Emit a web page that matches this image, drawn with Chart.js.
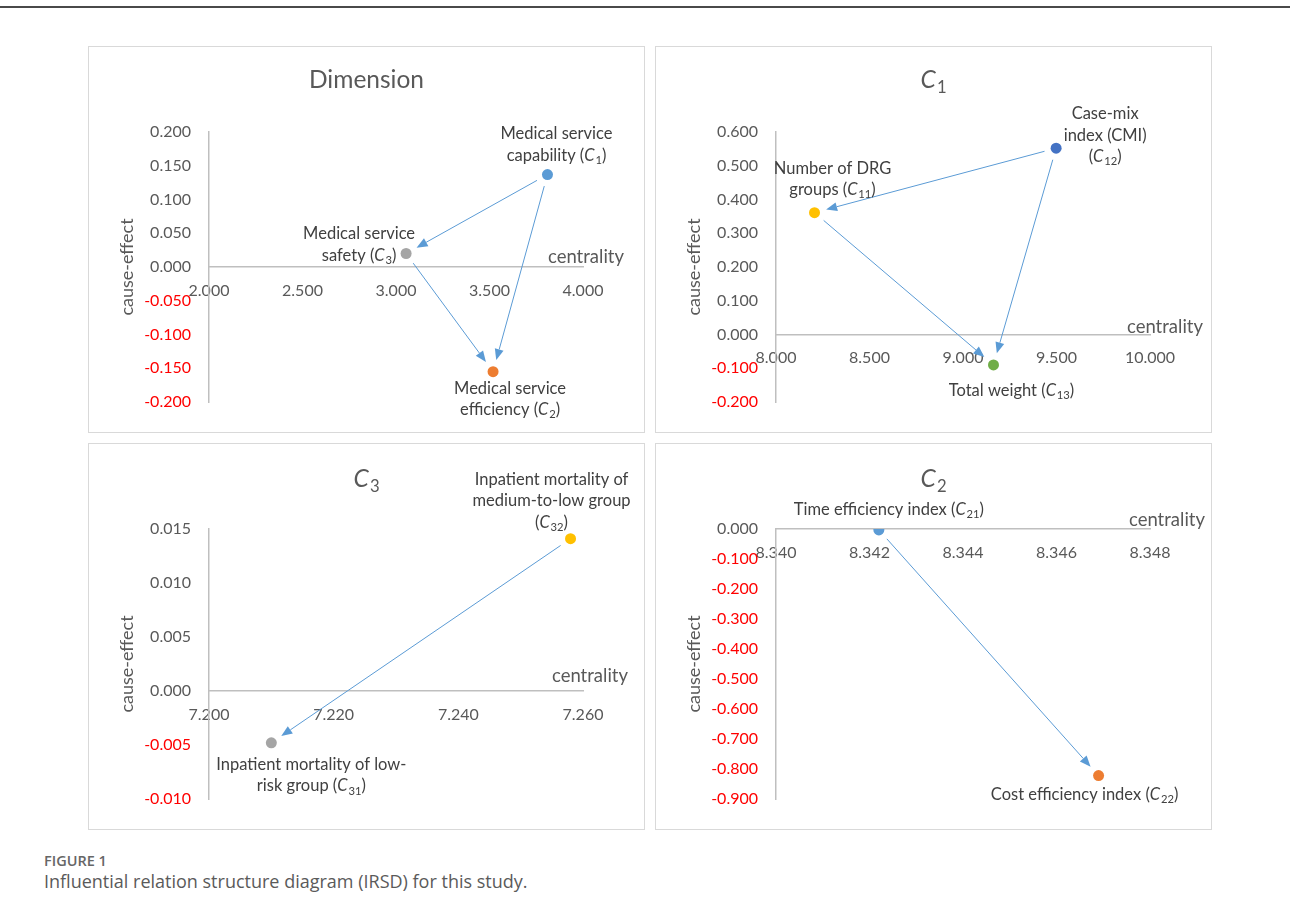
<!DOCTYPE html>
<html>
<head>
<meta charset="utf-8">
<script src="https://cdn.jsdelivr.net/npm/chart.js@4/dist/chart.umd.min.js"></script>
<style>
  body { margin: 0; background: #fff; width: 1290px; height: 918px; position: relative; overflow: hidden; }
  .topline { position: absolute; left: 0; top: 6px; width: 1290px; height: 2px; background: #4a4a4a; }
  .panel { position: absolute; border: 1px solid #d9d9d9; width: 555px; height: 385px; }
  .fig { position: absolute; left: 44px; top: 851px; font: 600 14.5px "Open Sans"; color: #666; }
  .cap { position: absolute; left: 44px; top: 869px; font: 400 18px "Open Sans"; color: #5a5a5a; }
</style>
</head>
<body>
<div class="topline"></div>
<div class="panel" style="left:88px;top:46px"><canvas id="dim" width="555" height="385"></canvas></div>
<div class="panel" style="left:655px;top:46px"><canvas id="c1" width="555" height="385"></canvas></div>
<div class="panel" style="left:88px;top:443px"><canvas id="c3" width="555" height="385"></canvas></div>
<div class="panel" style="left:655px;top:443px"><canvas id="c2" width="555" height="385"></canvas></div>
<div class="fig">FIGURE 1</div>
<div class="cap">Influential relation structure diagram (IRSD) for this study.</div>
<script>
// Dimension level
const dimNames = [["Medical service", "capability (C_1)"], ["Medical service", "efficiency (C_2)"], ["Medical service", "safety (C_3)"]];
const dimCentrality = [3.810, 3.519, 3.054];
const dimCauseEffect = [0.137, -0.155, 0.020];
const dimArrows = [[0, 2], [0, 1], [2, 1]];
const dimXTicks = [2.0, 2.5, 3.0, 3.5, 4.0];
const dimYTicks = [-0.2, -0.15, -0.1, -0.05, 0, 0.05, 0.1, 0.15, 0.2];

// C1 criteria
const c1Names = [["Number of DRG", "groups (C_11)"], ["Case-mix", "index (CMI)", "(C_12)"], ["Total weight (C_13)"]];
const c1Centrality = [8.206, 9.498, 9.163];
const c1CauseEffect = [0.361, 0.552, -0.090];
const c1Arrows = [[1, 0], [1, 2], [0, 2]];
const c1XTicks = [8.0, 8.5, 9.0, 9.5, 10.0];
const c1YTicks = [-0.2, -0.1, 0, 0.1, 0.2, 0.3, 0.4, 0.5, 0.6];

// C3 criteria
const c3Names = [["Inpatient mortality of low-", "risk group (C_31)"], ["Inpatient mortality of", "medium-to-low group", "(C_32)"]];
const c3Centrality = [7.210, 7.258];
const c3CauseEffect = [-0.0048, 0.0141];
const c3Arrows = [[1, 0]];
const c3XTicks = [7.20, 7.22, 7.24, 7.26];
const c3YTicks = [-0.010, -0.005, 0, 0.005, 0.010, 0.015];

// C2 criteria
const c2Names = [["Time efficiency index (C_21)"], ["Cost efficiency index (C_22)"]];
const c2Centrality = [8.3422, 8.3469];
const c2CauseEffect = [-0.003, -0.822];
const c2Arrows = [[0, 1]];
const c2XTicks = [8.340, 8.342, 8.344, 8.346, 8.348];
const c2YTicks = [-0.9, -0.8, -0.7, -0.6, -0.5, -0.4, -0.3, -0.2, -0.1, 0];

const FONT = "Lato";
const GREY = "#595959";
const ARROW = "#5B9BD5";

// split "capability (C_1)" into plain / italic C / subscript pieces
function richParts(text) {
  const parts = [];
  text.split(/(C_\d+)/).forEach(function (p) {
    if (!p) return;
    if (/^C_\d+$/.test(p)) {
      parts.push({ t: "C", italic: true });
      parts.push({ t: p.slice(2), sub: true });
    } else {
      parts.push({ t: p });
    }
  });
  return parts;
}

function drawRich(ctx, text, cx, cy, size, color) {
  const parts = richParts(text);
  const fontOf = function (p) {
    return (p.italic ? "italic " : "") + (p.sub ? size * 0.68 : size) + "px " + FONT;
  };
  let w = 0;
  parts.forEach(function (p) {
    ctx.font = fontOf(p);
    p.w = ctx.measureText(p.t).width + (p.italic ? size * 0.05 : 0);
    w += p.w;
  });
  let x = cx - w / 2;
  const base = cy + size * 0.36;
  ctx.fillStyle = color;
  ctx.textAlign = "left";
  ctx.textBaseline = "alphabetic";
  parts.forEach(function (p) {
    ctx.font = fontOf(p);
    ctx.fillText(p.t, x, p.sub ? base + size * 0.2 : base);
    x += p.w;
  });
}

function drawArrow(ctx, x1, y1, x2, y2) {
  const a = Math.atan2(y2 - y1, x2 - x1);
  const c = Math.cos(a), s = Math.sin(a);
  const gap = 12, head = 11, half = 4.5;
  const sx = x1 + c * gap, sy = y1 + s * gap;
  const ex = x2 - c * gap, ey = y2 - s * gap;
  ctx.strokeStyle = ARROW;
  ctx.fillStyle = ARROW;
  ctx.lineWidth = 1;
  ctx.beginPath();
  ctx.moveTo(sx, sy);
  ctx.lineTo(ex - c * head, ey - s * head);
  ctx.stroke();
  ctx.beginPath();
  ctx.moveTo(ex, ey);
  ctx.lineTo(ex - c * head - s * half, ey - s * head + c * half);
  ctx.lineTo(ex - c * head + s * half, ey - s * head - c * half);
  ctx.closePath();
  ctx.fill();
}

const decor = {
  id: "decor",
  afterDatasetsDraw: function (chart) {
    const p = chart.options.plugins.decor;
    const ctx = chart.ctx;
    const xs = chart.scales.x, ys = chart.scales.y;
    const px = function (i) { return xs.getPixelForValue(p.x[i]); };
    const py = function (i) { return ys.getPixelForValue(p.y[i]); };
    ctx.save();
    p.arrows.forEach(function (ar) {
      drawArrow(ctx, px(ar[0]), py(ar[0]), px(ar[1]), py(ar[1]));
    });
    p.names.forEach(function (lines, i) {
      const off = p.labelPos[i];
      lines.forEach(function (line, k) {
        drawRich(ctx, line, px(i) + off[0], py(i) + off[1] + k * 21.5, 16.5, "#404040");
      });
    });
    // chart title
    drawRich(ctx, p.title, chart.width / 2, p.titleY, 24.5, GREY);
    // x axis name sitting above the axis end
    ctx.font = "18.5px " + FONT;
    ctx.fillStyle = GREY;
    ctx.textAlign = "right";
    ctx.textBaseline = "middle";
    ctx.fillText("centrality", chart.chartArea.right + p.centralityPos[0], ys.getPixelForValue(0) + p.centralityPos[1]);
    ctx.restore();
  }
};

function makeChart(id, cfg) {
  const fmt = function (v) { return Number(v).toFixed(3); };
  const tickColor = function (c) { return c.tick && c.tick.value < -1e-9 ? "#FF0000" : GREY; };
  new Chart(document.getElementById(id).getContext("2d"), {
    type: "scatter",
    data: {
      datasets: [{
        data: cfg.x.map(function (v, i) { return { x: v, y: cfg.y[i] }; }),
        pointBackgroundColor: cfg.colors,
        pointBorderWidth: 0,
        pointRadius: 5.5,
        pointHoverRadius: 5.5
      }]
    },
    options: {
      responsive: false,
      animation: false,
      events: [],
      layout: { padding: { left: 0, top: 85, right: 61, bottom: 30 } },
      scales: {
        x: {
          type: "linear",
          position: { y: 0 },
          min: cfg.xTicks[0],
          max: cfg.xTicks[cfg.xTicks.length - 1],
          afterBuildTicks: function (s) { s.ticks = cfg.xTicks.map(function (v) { return { value: v }; }); },
          grid: { display: false, drawTicks: false },
          border: { display: true, color: "#BFBFBF", width: 1.5 },
          ticks: { callback: fmt, color: GREY, font: { family: FONT, size: 16 }, padding: 14, autoSkip: false, maxRotation: 0 }
        },
        y: {
          type: "linear",
          min: cfg.yTicks[0],
          max: cfg.yTicks[cfg.yTicks.length - 1],
          afterBuildTicks: function (s) { s.ticks = cfg.yTicks.map(function (v) { return { value: v }; }); },
          afterFit: function (s) { s.width = 120; },
          grid: { display: false, drawTicks: false },
          border: { display: true, color: "#BFBFBF", width: 1.5 },
          ticks: { callback: fmt, color: tickColor, font: { family: FONT, size: 16 }, padding: 18, autoSkip: false },
          title: { display: true, text: "cause-effect", color: GREY, font: { family: FONT, size: 18 }, padding: { top: 27, bottom: 0 } }
        }
      },
      plugins: {
        legend: { display: false },
        tooltip: { enabled: false },
        decor: cfg
      }
    },
    plugins: [decor]
  });
}

makeChart("dim", {
  title: "Dimension", titleY: 32,
  x: dimCentrality, y: dimCauseEffect, names: dimNames, arrows: dimArrows,
  xTicks: dimXTicks, yTicks: dimYTicks,
  colors: ["#5B9BD5", "#ED7D31", "#A5A5A5"],
  labelPos: [[9, -41], [17, 16], [-47, -20]],
  centralityPos: [41, -10]
});

makeChart("c1", {
  title: "C_1", titleY: 32,
  x: c1Centrality, y: c1CauseEffect, names: c1Names, arrows: c1Arrows,
  xTicks: c1XTicks, yTicks: c1YTicks,
  colors: ["#FFC000", "#4472C4", "#70AD47"],
  labelPos: [[18, -45], [49, -35], [18, 25]],
  centralityPos: [53, -7]
});

makeChart("c3", {
  title: "C_3", titleY: 34,
  x: c3Centrality, y: c3CauseEffect, names: c3Names, arrows: c3Arrows,
  xTicks: c3XTicks, yTicks: c3YTicks,
  colors: ["#A5A5A5", "#FFC000"],
  labelPos: [[40, 21], [-19, -60]],
  centralityPos: [45, -15]
});

makeChart("c2", {
  title: "C_2", titleY: 34,
  x: c2Centrality, y: c2CauseEffect, names: c2Names, arrows: c2Arrows,
  xTicks: c2XTicks, yTicks: c2YTicks,
  colors: ["#5B9BD5", "#ED7D31"],
  labelPos: [[10, -21], [-14, 18]],
  centralityPos: [55, -9]
});
</script>
</body>
</html>
